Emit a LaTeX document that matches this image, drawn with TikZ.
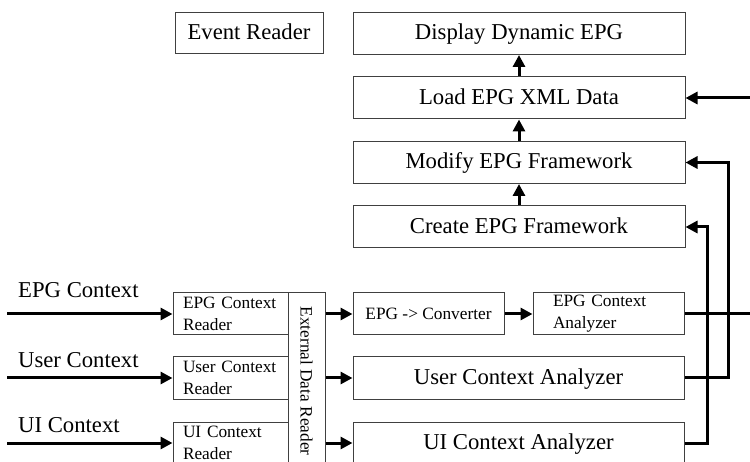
\documentclass[tikz,border=0pt]{standalone}
\usepackage{fontspec}
\setmainfont{Liberation Serif}
\usetikzlibrary{arrows.meta, positioning}
\newcommand{\bigtxt}{\fontsize{22.7}{26}\selectfont}
\newcommand{\smalltxt}{\fontsize{17.3}{22}\selectfont}

\begin{document}
\begin{tikzpicture}[
  x=1pt, y=-1pt,
  node distance = 21.5pt,
  box/.style    = {rectangle, draw=black!75, line width=1pt, inner sep=0pt, minimum height=42pt,
                   text height=18pt, text depth=5pt, align=center, font=\bigtxt},
  wide/.style   = {box, minimum width=332pt},
  small/.style  = {rectangle, draw=black!75, line width=1pt, inner sep=0pt, minimum height=42pt, font=\smalltxt},
  reader/.style = {small, minimum width=115pt, text width=95pt, align=left},
  lbl/.style    = {inner sep=0pt, anchor=base west, font=\bigtxt},
  arr/.style    = {-{Triangle[length=12pt,width=12pt]}, line width=3pt}
]
\useasboundingbox (0,0) rectangle (750,462);

%% EPG output stack
\node[wide]                (create) at (519,227) {Create EPG Framework};
\node[wide, above=of create] (modify) {Modify EPG Framework};
\node[wide, above=of modify] (load)   {Load EPG XML Data};
\node[wide, above=of load]   (disp)   {Display Dynamic EPG};
\node[box, minimum width=148pt, minimum height=41pt] (evt) at (249,33.5) {Event Reader};

%% readers
\node[reader] (epgrd)  at (230.5,314) {EPG Context\\Reader};
\node[reader] (userrd) at (230.5,378) {User Context\\Reader};
\node[reader] (uird)   at (230.5,443) {UI Context\\Reader};
\node[small, minimum width=37pt, minimum height=176pt] (ext) at (306.5,381)
     {\rotatebox{-90}{External Data Reader}};

%% analyzers
\node[small, minimum width=151pt, align=center] (conv) at (428.5,314) {EPG -> Converter};
\node[small, minimum width=151pt, text width=111pt, align=left] (epgan) at (608.5,314) {EPG Context\\Analyzer};
\node[box, minimum width=331pt] (useran) at (518.5,378) {User Context Analyzer};
\node[box, minimum width=331pt] (uian)   at (518.5,443) {UI Context Analyzer};

%% input labels
\node[lbl] (lepg)  at (18,298) {EPG Context};
\node[lbl] (luser) at (18,367) {User Context};
\node[lbl] (lui)   at (18,432) {UI Context};

\coordinate (inepg)  at (7,314);
\coordinate (inuser) at (7,378);
\coordinate (inui)   at (7,443);
\coordinate (vcre)   at (707,0);
\coordinate (vmod)   at (728,0);
\coordinate (vload)  at (760,0);

%% arrows
\draw[arr] (inepg)  -- (epgrd.west);
\draw[arr] (inuser) -- (userrd.west);
\draw[arr] (inui)   -- (uird.west);
\draw[arr] (ext.east |- conv.west)   -- (conv.west);
\draw[arr] (ext.east |- useran.west) -- (useran.west);
\draw[arr] (ext.east |- uian.west)   -- (uian.west);
\draw[arr] (conv) -- (epgan);
\draw[arr] (create) -- (modify);
\draw[arr] (modify) -- (load);
\draw[arr] (load)   -- (disp);
\draw[arr] (epgan.east) -- (epgan.east -| vload) -- (vload |- load.east) -- (load.east);
\draw[arr] (useran.east) -- (useran.east -| vmod) -- (vmod |- modify.east) -- (modify.east);
\draw[arr] (uian.east) -- (uian.east -| vcre) -- (vcre |- create.east) -- (create.east);
\end{tikzpicture}
\end{document}
